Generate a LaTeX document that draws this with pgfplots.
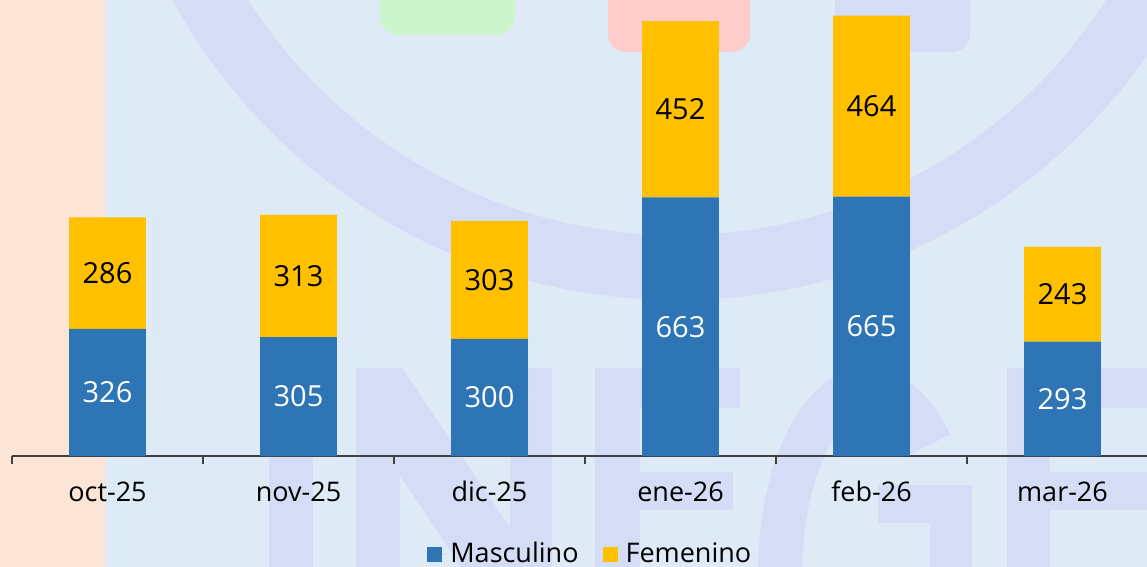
\documentclass[border=0pt]{standalone}
\usepackage{fontspec}
\setmainfont{Open Sans}
\usepackage{pgfplots}
\pgfplotsset{compat=1.18}
\definecolor{bgblue}{RGB}{222,234,246}
\definecolor{peach}{RGB}{252,228,214}
\definecolor{wm}{RGB}{213,221,246}
\definecolor{wgreen}{RGB}{204,245,204}
\definecolor{wpink}{RGB}{255,204,204}
\definecolor{barblue}{RGB}{46,117,182}
\definecolor{baryellow}{RGB}{255,192,0}
\definecolor{axisgray}{RGB}{64,64,64}
\begin{document}
\begin{tikzpicture}
\begin{scope}[x=0.5pt,y=-0.5pt]
\clip (0,0) rectangle (1147,567);
\fill[bgblue] (0,0) rectangle (1147,567);
\fill[peach] (0,0) rectangle (105,567);
\fill[wgreen, rounded corners=9pt] (380,-40) rectangle (515,35);
\fill[wpink, rounded corners=9pt] (608,-40) rectangle (750,52);
\fill[wm, rounded corners=9pt] (835,-40) rectangle (970,52);
\fill[wm, even odd rule] (677,-274) circle[radius=574] (677,-274) circle[radius=509];
\fill[wm] (269,368) rectangle (313,600);
\fill[wm] (356,368) rectangle (400,600);
\fill[wm] (510,368) rectangle (552,600);
\fill[wm] (356,368) -- (402,368) -- (552,590) -- (552,640) -- (510,640) -- (356,410) -- cycle;
\fill[wm] (595,368) rectangle (640,600);
\fill[wm] (595,368) rectangle (740,408);
\fill[wm] (595,472) rectangle (733,510);
\draw[wm, line width=22pt] (868,575) ++(-45:88 and 185) arc[start angle=-45, end angle=-270, x radius=88, y radius=185];
\fill[wm] (878,485) rectangle (972,523);
\fill[wm] (930,485) rectangle (972,600);
\fill[wm] (1007,368) rectangle (1050,600);
\fill[wm] (1007,368) rectangle (1160,408);
\fill[wm] (1007,472) rectangle (1160,510);
\end{scope}

\begin{axis}[
  at={(6pt,-228pt)}, anchor=south west,
  scale only axis, width=573pt, height=228pt,
  xmin=-0.5, xmax=5.5, ymin=0, ymax=1169,
  enlargelimits=false,
  ybar stacked, bar width=0.403,
  axis x line*=bottom, axis y line=none,
  x axis line style={axisgray, line width=1pt, -},
  ytick=\empty,
  xtick={0,...,5},
  xticklabels={oct-25,nov-25,dic-25,ene-26,feb-26,mar-26},
  major tick length=0pt,
  minor xtick={-0.5,0.5,...,5.5},
  minor tick length=4pt,
  tick align=outside,
  minor tick style={axisgray, line width=0.75pt},
  xticklabel style={font=\fontsize{13.5}{16}\selectfont, anchor=base, yshift=-22.5pt},
  legend style={at={(0.5055,-0.2150)}, anchor=center, draw=none, fill=none,
    font=\fontsize{13.5}{16}\selectfont, /tikz/every even column/.append style={column sep=10pt}},
  legend columns=2,
  legend cell align=left,
  legend image code/.code={\path (0pt,0pt) -- (9.5pt,0pt);\fill[#1,draw=none] (0pt,-3.75pt) rectangle (7.5pt,3.75pt);},
]
\addplot[fill=barblue, draw=none] coordinates {(0,326) (1,305) (2,300) (3,663) (4,665) (5,293)};
\addplot[fill=baryellow, draw=none] coordinates {(0,286) (1,313) (2,303) (3,452) (4,464) (5,243)};
\legend{Masculino, Femenino}
\end{axis}

\begin{axis}[
  at={(6pt,-228pt)}, anchor=south west,
  scale only axis, width=573pt, height=228pt,
  xmin=-0.5, xmax=5.5, ymin=0, ymax=1169,
  enlargelimits=false,
  axis lines=none, ticks=none,
  nodes near coords,
  point meta=explicit symbolic,
  nodes near coords style={anchor=center, font=\fontsize{14.5}{17}\selectfont},
]
\addplot[draw=none, nodes near coords style={text=white}] coordinates {(0,163)[326] (1,152.5)[305] (2,150)[300] (3,331.5)[663] (4,332.5)[665] (5,146.5)[293]};
\addplot[draw=none, nodes near coords style={text=black}] coordinates {(0,469)[286] (1,461.5)[313] (2,451.5)[303] (3,889)[452] (4,897)[464] (5,414.5)[243]};
\end{axis}
\pgfresetboundingbox
\useasboundingbox (0,0) rectangle (573.5pt,-283.5pt);
\end{tikzpicture}
\end{document}
